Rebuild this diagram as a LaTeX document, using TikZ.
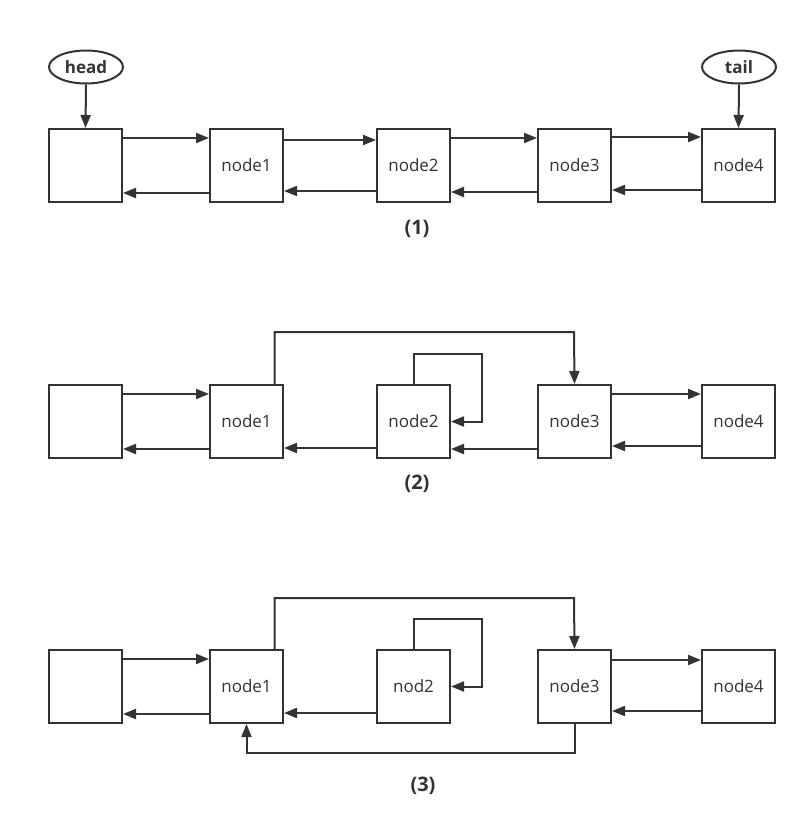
\documentclass[tikz,border=0pt]{standalone}
\usepackage{fontspec}
\setmainfont{Open Sans}
\usetikzlibrary{arrows.meta,shapes.geometric,calc}
\definecolor{ink}{HTML}{333333}
\begin{document}
\begin{tikzpicture}[x=1pt,y=-1pt,
  box/.style={draw=ink,line width=2pt,minimum size=73pt,inner sep=0pt,font=\fontsize{17}{20}\selectfont,text=ink},
  ell/.style={draw=ink,line width=2pt,ellipse,minimum width=74pt,minimum height=33pt,inner sep=0pt,font=\bfseries\fontsize{17}{20}\selectfont,text=ink},
  lab/.style={font=\bfseries\fontsize{20}{24}\selectfont,text=ink},
  arr/.style={draw=ink,line width=2pt,-{Triangle[length=13pt,width=10pt]}},
]
\useasboundingbox (0,0) rectangle (808,838);
\fill[white] (0,0) rectangle (808,838);

% ---------- row 1 ----------
\node[box] (a0) at (85.5,165.5) {};
\node[box] (a1) at (246.5,165.5) {node1};
\node[box] (a2) at (413.5,165.5) {node2};
\node[box] (a3) at (574.5,165.5) {node3};
\node[box] (a4) at (738.5,165.5) {node4};
\node[ell] (head) at (86,67) {head};
\node[ell] (tail) at (739,67) {tail};
\node[lab] (l1) at (417,229) {(1)};
\draw[arr] (head.south) -- (a0.north);
\draw[arr] (tail.south) -- (a4.north);
\draw[arr] ([yshift=-10pt]a0.north east) -- ([yshift=-10pt]a1.north west);
\draw[arr] ([yshift=10pt]a1.south west) -- ([yshift=10pt]a0.south east);
\draw[arr] ([yshift=-12pt]a1.north east) -- ([yshift=-12pt]a2.north west);
\draw[arr] ([yshift=12pt]a2.south west) -- ([yshift=12pt]a1.south east);
\draw[arr] ([yshift=-10pt]a2.north east) -- ([yshift=-10pt]a3.north west);
\draw[arr] ([yshift=11pt]a3.south west) -- ([yshift=11pt]a2.south east);
\draw[arr] ([yshift=-9pt]a3.north east) -- ([yshift=-9pt]a4.north west);
\draw[arr] ([yshift=13pt]a4.south west) -- ([yshift=13pt]a3.south east);

% ---------- row 2 ----------
\node[box] (b0) at (85.5,421.5) {};
\node[box] (b1) at (246.5,421.5) {node1};
\node[box] (b2) at (413.5,421.5) {node2};
\node[box] (b3) at (574.5,421.5) {node3};
\node[box] (b4) at (738.5,421.5) {node4};
\node[lab] (l2) at (417,484) {(2)};
\draw[arr] ([yshift=-10pt]b0.north east) -- ([yshift=-10pt]b1.north west);
\draw[arr] ([yshift=10pt]b1.south west) -- ([yshift=10pt]b0.south east);
\draw[arr] ([xshift=28pt]b1.north) |- (574,332) -- (b3.north);
\draw[arr] (b2.north) |- (482,354) |- (b2.east);
\draw[arr] ([yshift=10pt]b3.south west) -- ([yshift=10pt]b2.south east);
\draw[arr] ([yshift=11pt]b2.south west) -- ([yshift=11pt]b1.south east);
\draw[arr] ([yshift=-10pt]b3.north east) -- ([yshift=-10pt]b4.north west);
\draw[arr] ([yshift=13pt]b4.south west) -- ([yshift=13pt]b3.south east);

% ---------- row 3 ----------
\node[box] (c0) at (85.5,686.5) {};
\node[box] (c1) at (246.5,686.5) {node1};
\node[box] (c2) at (413.5,686.5) {nod2};
\node[box] (c3) at (574.5,686.5) {node3};
\node[box] (c4) at (738.5,686.5) {node4};
\node[lab] (l3) at (423,786) {(3)};
\draw[arr] ([yshift=-10pt]c0.north east) -- ([yshift=-10pt]c1.north west);
\draw[arr] ([yshift=10pt]c1.south west) -- ([yshift=10pt]c0.south east);
\draw[arr] ([xshift=28pt]c1.north) |- (574,598) -- (c3.north);
\draw[arr] (c2.north) |- (482,619) |- (c2.east);
\draw[arr] ([yshift=11pt]c2.south west) -- ([yshift=11pt]c1.south east);
\draw[arr] (c3.south) |- (246.5,753) -- (c1.south);
\draw[arr] ([yshift=-11pt]c3.north east) -- ([yshift=-11pt]c4.north west);
\draw[arr] ([yshift=13pt]c4.south west) -- ([yshift=13pt]c3.south east);
\end{tikzpicture}
\end{document}
